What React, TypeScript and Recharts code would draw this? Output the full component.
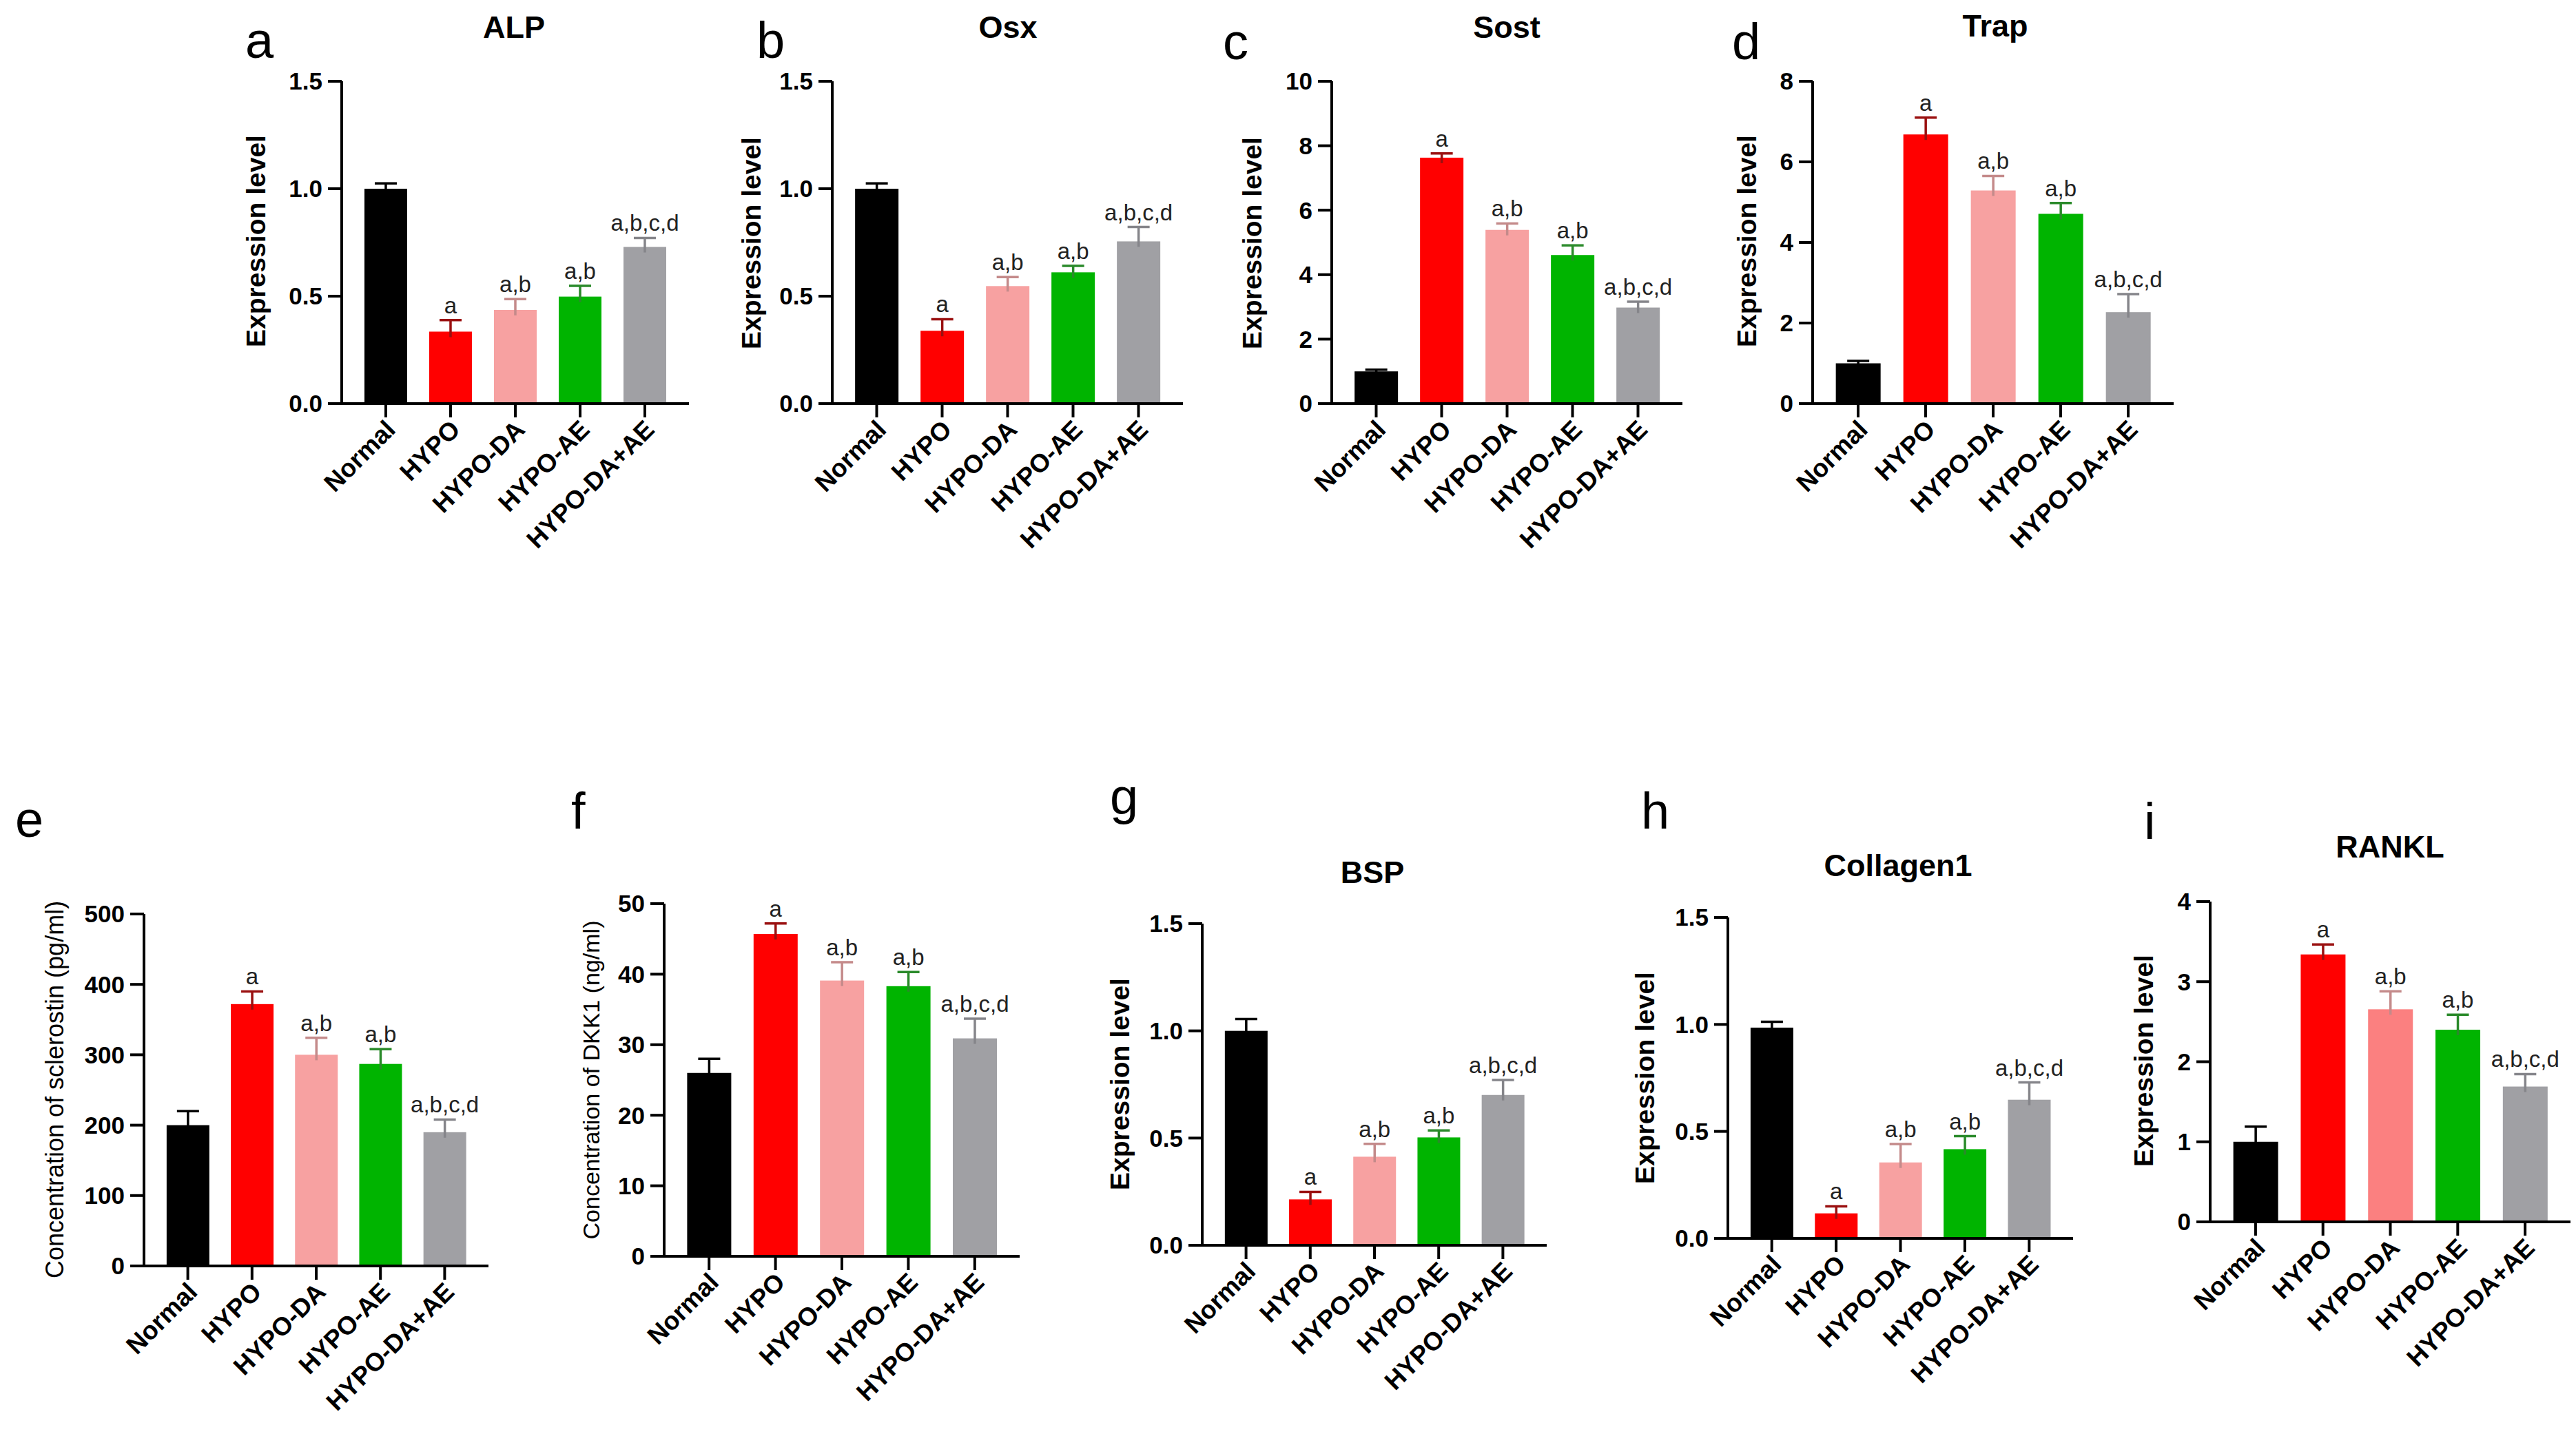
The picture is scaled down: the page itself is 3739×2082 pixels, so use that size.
import React from 'react';
import { BarChart, Bar, XAxis, YAxis } from 'recharts';

const groups = ['Normal', 'HYPO', 'HYPO-DA', 'HYPO-AE', 'HYPO-DA+AE'];
const marks = ['', 'a', 'a,b', 'a,b', 'a,b,c,d'];

// group means and SEM per marker
const alpMean = [1.0, 0.335, 0.436, 0.498, 0.729];
const alpSem = [0.025, 0.054, 0.05, 0.05, 0.042];
const osxMean = [1.0, 0.339, 0.547, 0.611, 0.755];
const osxSem = [0.025, 0.054, 0.042, 0.03, 0.067];
const sostMean = [1.0, 7.63, 5.39, 4.61, 2.98];
const sostSem = [0.05, 0.13, 0.2, 0.3, 0.18];
const trapMean = [1.0, 6.68, 5.29, 4.71, 2.27];
const trapSem = [0.06, 0.42, 0.36, 0.27, 0.45];
const sclerostinMean = [200, 372, 300, 287, 190];
const sclerostinSem = [20, 18, 24, 21, 18];
const dkk1Mean = [26, 45.7, 39.1, 38.3, 30.9];
const dkk1Sem = [2, 1.5, 2.6, 2, 2.8];
const bspMean = [1.0, 0.214, 0.413, 0.503, 0.701];
const bspSem = [0.055, 0.035, 0.06, 0.033, 0.07];
const col1Mean = [0.985, 0.117, 0.355, 0.417, 0.648];
const col1Sem = [0.027, 0.033, 0.086, 0.061, 0.081];
const ranklMean = [1.0, 3.34, 2.655, 2.4, 1.69];
const ranklSem = [0.19, 0.125, 0.224, 0.188, 0.156];

const ticksRel = [0, 0.5, 1.0, 1.5];
const ticksSost = [0, 2, 4, 6, 8, 10];
const ticksTrap = [0, 2, 4, 6, 8];
const ticksSclerostin = [0, 100, 200, 300, 400, 500];
const ticksDkk1 = [0, 10, 20, 30, 40, 50];
const ticksRankl = [0, 1, 2, 3, 4];

const FONT = "'Liberation Sans', Arial, sans-serif";
const BAR_COLORS = ['#000000', '#ff0000', '#f7a1a1', '#00b400', '#a0a0a4'];
const BAR_COLORS_I = ['#000000', '#ff0000', '#fb8080', '#00b400', '#a0a0a4'];
const ERR_COLORS = ['#000000', '#9a1010', '#c48a8a', '#2a8a2a', '#85858a'];

const makeRows = (mean: number[], sem: number[]) =>
  groups.map((g, i) => ({ group: g, mean: mean[i], sem: sem[i], mark: marks[i] }));

type Panel = {
  rows: { group: string; mean: number; sem: number; mark: string }[];
  ticks: number[];
  decimals: number;
  colors: string[];
  ax: number; ae: number; yt: number; y0: number;
  title?: string; tx?: number; ty?: number;
  letter: string; lx: number; ly: number;
  yLabel: string; yx: number; yy: number; ySize: number; yBold: boolean;
};

const panels: Panel[] = [
  { rows: makeRows(alpMean, alpSem), ticks: ticksRel, decimals: 1, colors: BAR_COLORS,
    ax: 496, ae: 1000, yt: 118, y0: 586, title: 'ALP', tx: 746, ty: 55,
    letter: 'a', lx: 356, ly: 84, yLabel: 'Expression level', yx: 371, yy: 350, ySize: 39, yBold: true },
  { rows: makeRows(osxMean, osxSem), ticks: ticksRel, decimals: 1, colors: BAR_COLORS,
    ax: 1208, ae: 1717, yt: 118, y0: 586, title: 'Osx', tx: 1463, ty: 55,
    letter: 'b', lx: 1098, ly: 84, yLabel: 'Expression level', yx: 1090, yy: 353, ySize: 39, yBold: true },
  { rows: makeRows(sostMean, sostSem), ticks: ticksSost, decimals: 0, colors: BAR_COLORS,
    ax: 1933, ae: 2442, yt: 118, y0: 586, title: 'Sost', tx: 2187, ty: 55,
    letter: 'c', lx: 1775, ly: 86, yLabel: 'Expression level', yx: 1817, yy: 353, ySize: 39, yBold: true },
  { rows: makeRows(trapMean, trapSem), ticks: ticksTrap, decimals: 0, colors: BAR_COLORS,
    ax: 2631, ae: 3155, yt: 118, y0: 586, title: 'Trap', tx: 2896, ty: 53,
    letter: 'd', lx: 2514, ly: 86, yLabel: 'Expression level', yx: 2535, yy: 350, ySize: 39, yBold: true },
  { rows: makeRows(sclerostinMean, sclerostinSem), ticks: ticksSclerostin, decimals: 0, colors: BAR_COLORS,
    ax: 209, ae: 709, yt: 1327, y0: 1838,
    letter: 'e', lx: 22, ly: 1215, yLabel: 'Concentration of sclerostin (pg/ml)', yx: 79, yy: 1582, ySize: 36, yBold: false },
  { rows: makeRows(dkk1Mean, dkk1Sem), ticks: ticksDkk1, decimals: 0, colors: BAR_COLORS,
    ax: 964, ae: 1480, yt: 1312, y0: 1824,
    letter: 'f', lx: 829, ly: 1203, yLabel: 'Concentration of DKK1 (ng/ml)', yx: 858, yy: 1568, ySize: 34, yBold: false },
  { rows: makeRows(bspMean, bspSem), ticks: ticksRel, decimals: 1, colors: BAR_COLORS,
    ax: 1745, ae: 2245, yt: 1341, y0: 1808, title: 'BSP', tx: 1992, ty: 1282,
    letter: 'g', lx: 1611, ly: 1182, yLabel: 'Expression level', yx: 1625, yy: 1574, ySize: 39, yBold: true },
  { rows: makeRows(col1Mean, col1Sem), ticks: ticksRel, decimals: 1, colors: BAR_COLORS,
    ax: 2508, ae: 3009, yt: 1332, y0: 1798, title: 'Collagen1', tx: 2755, ty: 1272,
    letter: 'h', lx: 2382, ly: 1203, yLabel: 'Expression level', yx: 2387, yy: 1565, ySize: 39, yBold: true },
  { rows: makeRows(ranklMean, ranklSem), ticks: ticksRankl, decimals: 0, colors: BAR_COLORS_I,
    ax: 3208, ae: 3731, yt: 1309, y0: 1774, title: 'RANKL', tx: 3469, ty: 1245,
    letter: 'i', lx: 3112, ly: 1218, yLabel: 'Expression level', yx: 3111, yy: 1540, ySize: 39, yBold: true },
];

const Y_W = 170;
const TOP = 50;
const RIGHT = 20;
const X_H = 320;

// bar with its upper SEM whisker and significance letters
const BarWithError = (props: any) => {
  const { x, y, width, height, payload, index, colors } = props;
  const perUnit = payload.mean > 0 ? height / payload.mean : 0;
  const top = y - payload.sem * perUnit;
  const cx = x + width / 2;
  const err = ERR_COLORS[index];
  return (
    <g>
      <rect x={x} y={y} width={width} height={height} fill={colors[index]} />
      <line x1={cx} x2={cx} y1={y + 8} y2={top} stroke={err} strokeWidth={3.5} />
      <line x1={cx - 16} x2={cx + 16} y1={top} y2={top} stroke={err} strokeWidth={3.5} />
      {payload.mark ? (
        <text x={cx} y={top - 10} textAnchor="middle" fontFamily={FONT} fontSize={33} fill="#222">
          {payload.mark}
        </text>
      ) : null}
    </g>
  );
};

const GroupTick = (props: any) => {
  const { x, y, payload } = props;
  return (
    <g transform={`translate(${x + 16},${y + 18}) rotate(-45)`}>
      <text x={0} y={0} textAnchor="end" fontFamily={FONT} fontSize={37} fontWeight="bold" fill="#000">
        {payload.value}
      </text>
    </g>
  );
};

const PanelChart = ({ p }: { p: Panel }) => {
  const plotW = p.ae - p.ax;
  const plotH = p.y0 - p.yt;
  const yMax = p.ticks[p.ticks.length - 1];
  return (
    <div style={{ position: 'absolute', left: p.ax - Y_W, top: p.yt - TOP }}>
      <BarChart
        width={Y_W + plotW + RIGHT}
        height={TOP + plotH + X_H}
        data={p.rows}
        margin={{ top: TOP, right: RIGHT, bottom: 0, left: 0 }}
        barCategoryGap="17%"
      >
        <XAxis
          dataKey="group"
          height={X_H}
          interval={0}
          padding={{ left: 17, right: 17 }}
          axisLine={{ stroke: '#000', strokeWidth: 4 }}
          tickLine={{ stroke: '#000', strokeWidth: 4 }}
          tickSize={20}
          tick={<GroupTick />}
        />
        <YAxis
          width={Y_W}
          domain={[0, yMax]}
          ticks={p.ticks}
          interval={0}
          allowDataOverflow
          axisLine={{ stroke: '#000', strokeWidth: 4 }}
          tickLine={{ stroke: '#000', strokeWidth: 4 }}
          tickSize={20}
          tickMargin={8}
          tickFormatter={(v: number) => v.toFixed(p.decimals)}
          tick={{ fontFamily: FONT, fontSize: 35, fontWeight: 'bold', fill: '#000' }}
        />
        <Bar
          dataKey="mean"
          isAnimationActive={false}
          shape={(sp: any) => <BarWithError {...sp} colors={p.colors} />}
        />
      </BarChart>
    </div>
  );
};

export default function App() {
  return (
    <div
      style={{
        position: 'absolute',
        left: 0,
        top: 0,
        width: 3739,
        height: 2082,
        background: '#fff',
        overflow: 'hidden',
      }}
    >
      {panels.map((p) => (
        <PanelChart key={p.letter} p={p} />
      ))}
      <svg
        width={3739}
        height={2082}
        style={{ position: 'absolute', left: 0, top: 0, pointerEvents: 'none' }}
      >
        {panels.map((p) => (
          <g key={p.letter} fontFamily={FONT} fill="#000">
            <text x={p.lx} y={p.ly} fontSize={74}>
              {p.letter}
            </text>
            {p.title ? (
              <text x={p.tx} y={p.ty} fontSize={45} fontWeight="bold" textAnchor="middle">
                {p.title}
              </text>
            ) : null}
            <text
              transform={`translate(${p.yx},${p.yy}) rotate(-90)`}
              textAnchor="middle"
              dominantBaseline="central"
              fontSize={p.ySize}
              fontWeight={p.yBold ? 'bold' : 'normal'}
            >
              {p.yLabel}
            </text>
          </g>
        ))}
      </svg>
    </div>
  );
}
